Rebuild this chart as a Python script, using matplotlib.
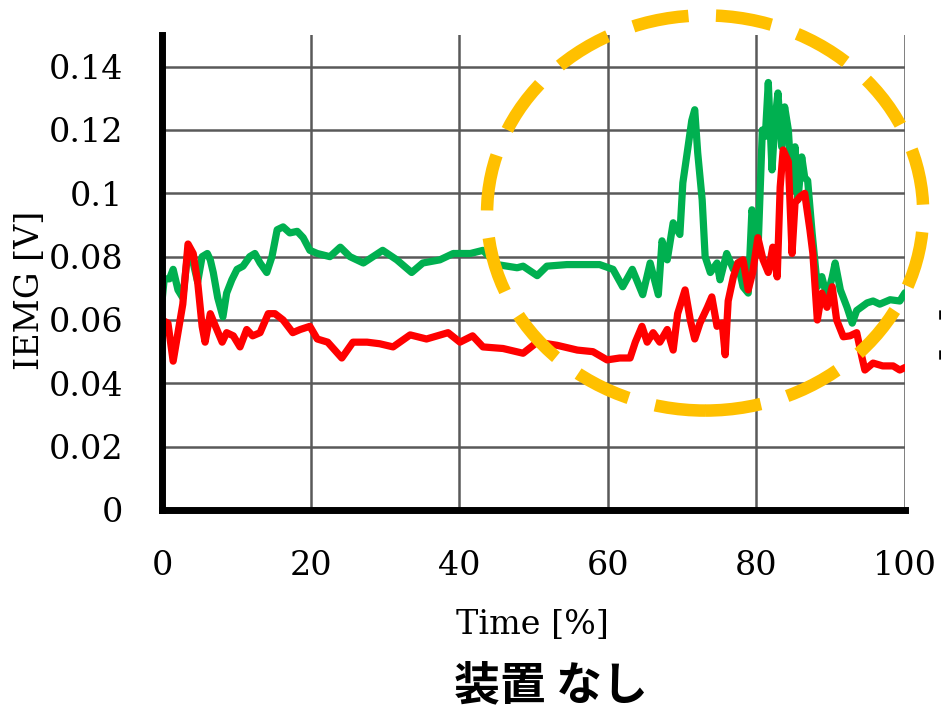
import matplotlib
matplotlib.use("Agg")
import matplotlib.pyplot as plt
from matplotlib.patches import Ellipse

# ---- data ----
green_t = [0, 0.3, 1.0, 1.5, 2.15, 2.8, 3.5, 4.2, 4.8, 5.4, 6.1, 6.5, 6.9, 7.5, 8.2, 8.7, 9.4, 10.1, 10.9, 11.8,
           12.5, 13.2, 14.1, 14.8, 15.5, 16.3, 17.2, 18.2, 19.0, 19.9, 20.9, 22.6, 24.0, 25.3, 27.1, 29.7, 31.6,
           33.6, 35.1, 37.4, 39.2, 41.5, 43.2, 45.1, 47.8, 48.6, 50.5, 51.8, 54.5, 56.7, 58.9, 60.7, 62.0, 63.3,
           64.7, 65.7, 66.8, 67.3, 68.0, 68.8, 69.7, 70.1, 70.8, 71.3, 71.7, 72.1, 72.7, 73.1, 73.8, 74.7, 75.1,
           76.0, 76.9, 77.5, 78.2, 78.9, 79.4, 79.8, 80.2, 80.8, 81.2, 81.6, 82.1, 82.5, 82.9, 83.4, 83.8, 84.3,
           84.8, 85.2, 85.6, 86.1, 86.5, 86.9, 87.5, 88.2, 88.8, 89.5, 90.2, 90.6, 91.3, 92.2, 92.9, 93.5, 94.9,
           95.7, 96.6, 98.0, 99.3, 100]
green_v = [0.066, 0.073, 0.073, 0.076, 0.0695, 0.067, 0.082, 0.078, 0.072, 0.080, 0.081, 0.079, 0.075, 0.067,
           0.061, 0.0685, 0.0727, 0.076, 0.077, 0.080, 0.081, 0.078, 0.075, 0.080, 0.0885, 0.0894, 0.0875, 0.088,
           0.086, 0.082, 0.081, 0.080, 0.083, 0.080, 0.078, 0.082, 0.079, 0.075, 0.078, 0.079, 0.081, 0.081,
           0.082, 0.0775, 0.0765, 0.077, 0.074, 0.077, 0.0775, 0.0775, 0.0775, 0.076, 0.0705, 0.076, 0.068,
           0.078, 0.068, 0.085, 0.079, 0.0907, 0.087, 0.1033, 0.1147, 0.123, 0.1264, 0.1128, 0.098, 0.080,
           0.075, 0.078, 0.0727, 0.081, 0.076, 0.078, 0.0705, 0.0685, 0.0948, 0.090, 0.081, 0.12, 0.118, 0.135,
           0.1074, 0.123, 0.1317, 0.1147, 0.1273, 0.12, 0.101, 0.1147, 0.098, 0.1115, 0.105, 0.104, 0.0875,
           0.0705, 0.0737, 0.0673, 0.0735, 0.078, 0.0695, 0.064, 0.059, 0.063, 0.0654, 0.066, 0.065, 0.0664,
           0.066, 0.0686]

red_t = [0, 0.8, 1.5, 2.15, 2.8, 3.5, 4.2, 4.8, 5.4, 5.8, 6.5, 7.2, 8.1, 8.7, 9.6, 10.5, 11.4, 12.2, 13.2, 14.3,
         15.2, 16.3, 17.6, 18.6, 19.9, 20.9, 22.3, 24.2, 25.7, 27.6, 29.3, 31.1, 33.4, 35.6, 38.5, 40.1, 41.8,
         43.2, 45.9, 48.6, 50.5, 53.2, 55.9, 58.0, 59.9, 61.6, 63.0, 63.7, 64.6, 65.3, 66.1, 67.0, 68.0, 68.8,
         69.4, 70.4, 71.1, 71.7, 72.4, 73.4, 74.0, 74.7, 75.4, 75.8, 76.2, 76.9, 77.5, 78.2, 78.9, 79.5, 80.2,
         80.9, 81.6, 82.2, 82.8, 83.2, 83.6, 84.3, 84.8, 85.2, 85.9, 86.5, 87.2, 87.6, 88.2, 88.8, 89.5, 90.2,
         90.8, 91.7, 92.6, 93.5, 94.2, 94.6, 95.7, 97.0, 98.4, 99.3, 100]
red_v = [0.060, 0.059, 0.047, 0.056, 0.065, 0.084, 0.081, 0.072, 0.058, 0.053,
         0.062, 0.058, 0.053, 0.056, 0.055, 0.0515, 0.057, 0.055, 0.056, 0.062,
         0.062, 0.060, 0.056, 0.057, 0.058, 0.054, 0.053, 0.048, 0.053, 0.053,
         0.0525, 0.0515, 0.0553, 0.054, 0.056, 0.053, 0.055, 0.0515, 0.051, 0.0495,
         0.053, 0.052, 0.0505, 0.050, 0.0474, 0.048, 0.048, 0.053, 0.058, 0.053,
         0.056, 0.053, 0.057, 0.0505, 0.062, 0.0695, 0.060, 0.054, 0.059, 0.064,
         0.0673, 0.058, 0.059, 0.049, 0.066, 0.0736, 0.078, 0.079, 0.0695, 0.075,
         0.086, 0.079, 0.075, 0.083, 0.0736, 0.102, 0.1137, 0.110, 0.081, 0.097,
         0.099, 0.10, 0.0885, 0.081, 0.060, 0.0685, 0.064, 0.0705, 0.060, 0.0547,
         0.055, 0.056, 0.0483, 0.0442, 0.0464, 0.0455, 0.0455, 0.0442, 0.045]

x_ticks = [0, 20, 40, 60, 80, 100]
y_ticks = [0, 0.02, 0.04, 0.06, 0.08, 0.10, 0.12, 0.14]
y_tick_labels = ["0", "0.02", "0.04", "0.06", "0.08", "0.1", "0.12", "0.14"]

x_label = "Time [%]"
y_label = "IEMG [V]"
title = "装置 なし"

# ---- figure ----
W, H = 941, 709
fig = plt.figure(figsize=(W / 100, H / 100), dpi=100)
ax = fig.add_axes([162 / W, 1 - 510 / H, (905 - 162) / W, (510 - 35) / H])

ax.set_xlim(0, 100)
ax.set_ylim(0, 0.15)

ax.set_xticks(x_ticks)
ax.set_yticks(y_ticks)
ax.set_yticklabels(y_tick_labels)

grid_c = "#595959"
for xv in x_ticks[1:]:
    ax.axvline(xv, color=grid_c, lw=1.8, zorder=1)
for yv in y_ticks[1:]:
    ax.axhline(yv, color=grid_c, lw=1.8, zorder=1)

ax.plot(green_t, green_v, color="#00B050", lw=5.2, solid_joinstyle="round", solid_capstyle="round", zorder=3)
ax.plot(red_t, red_v, color="#FF0000", lw=5.2, solid_joinstyle="round", solid_capstyle="round", zorder=4)

for s in ["top", "right"]:
    ax.spines[s].set_visible(False)
ax.spines["left"].set_linewidth(5)
ax.spines["bottom"].set_linewidth(5)
ax.spines["left"].set_zorder(5)
ax.spines["bottom"].set_zorder(5)

ax.tick_params(length=0, labelsize=24, pad=0)
ax.tick_params(axis="y", pad=28)
ax.tick_params(axis="x", pad=29)
for lab in ax.get_xticklabels() + ax.get_yticklabels():
    lab.set_family("DejaVu Serif")

# dashed highlight ellipse
ell = Ellipse((73.1, 0.0938), 58.7, 0.1248, fill=False, edgecolor="#FFC000", lw=9,
              linestyle=(0, (4.5, 2.2)), clip_on=False, zorder=6)
ax.add_patch(ell)

fig.text(30 / W, 1 - 290 / H, y_label, rotation=90, ha="center", va="center",
         fontsize=24, family="DejaVu Serif")
fig.text(532 / W, 1 - 625 / H, x_label, ha="center", va="center",
         fontsize=24, family="DejaVu Serif")
fig.text(551 / W, 1 - 686 / H, title, ha="center", va="center",
         fontsize=33, fontweight="bold", family=["Noto Sans CJK JP", "DejaVu Sans"])
# partially clipped label at right edge (cut off in the reference as well)
fig.text(952 / W, 1 - 275 / H, y_label, rotation=270, ha="center", va="center",
         fontsize=24, fontweight="bold", family="DejaVu Serif")

fig.savefig("out.png", dpi=100)
